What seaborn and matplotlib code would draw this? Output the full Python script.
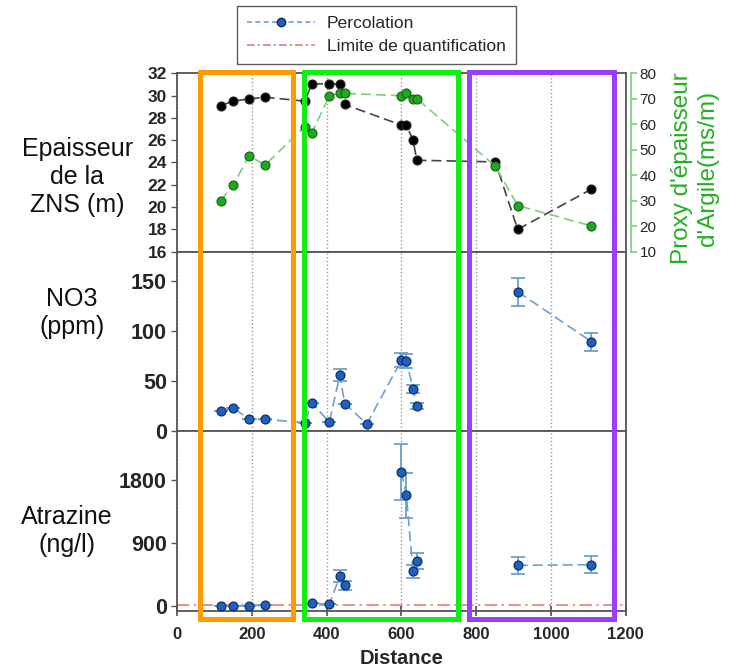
import numpy as np
import pandas as pd
import matplotlib
matplotlib.use("Agg")
import matplotlib.pyplot as plt
import matplotlib.transforms as mtrans
from matplotlib.lines import Line2D
from matplotlib.patches import Rectangle
import seaborn as sns

# ---------------- data ----------------
zns_x = [116, 150, 192, 235, 341, 360, 407, 435, 448, 600, 613, 631, 641, 851, 911, 1108]
zns_y = [29.1, 29.5, 29.7, 29.85, 29.5, 31.05, 31.05, 31.05, 29.2, 27.35, 27.35, 26.0, 24.2, 24.05, 18.0, 21.6]
argile_y = [30, 36.2, 47.6, 44, 59.1, 56.5, 71.2, 72.1, 72.1, 71.2, 72.1, 70, 70, 43.6, 28.1, 20.1]

# sampling points for water analyses (None = not measured -> gap in line)
perc_x = [116, 150, 192, 235, 341, 360, 407, 435, 448, 507, 600, 613, 631, 641, 851, 911, 1108]
no3_y = [20, 22.7, 12, 11.7, 8.3, 27.7, 9, 55.7, 27.3, 7, 70.7, 70, 41.7, 25.3, None, 139, 89.3]
no3_err = [0, 0, 0, 0, 0, 0, 0, 6, 0, 0, 7, 7, 4, 3, None, 14, 9]
atr_y = [5, 0, 0, 14, None, 43, 24, 430, 296, None, 1924, 1586, 497, 645, None, 583, 592]
atr_err = [0, 0, 0, 0, None, 0, 0, 86, 67, None, 400, 320, 95, 110, None, 120, 120]

limite_quant = 20

x_ticks = [0, 200, 400, 600, 800, 1000, 1200]
zns_ticks = [16, 18, 20, 22, 24, 26, 28, 30, 32]
argile_ticks = [10, 20, 30, 40, 50, 60, 70, 80]
no3_ticks = [0, 50, 100, 150]
atr_ticks = [0, 900, 1800]

# zones (distance spans) highlighted by coloured frames
zone_spans = [(62, 310), (338, 752), (781, 1168)]
zone_colors = ["#ff9a00", "#11ee11", "#9b3dff"]

legend_labels = ["Percolation", "Limite de quantification"]

# ---------------- style ----------------
sns.set_theme(style="white")
plt.rcParams["font.family"] = ["Liberation Sans", "DejaVu Sans"]

spine_c = "#555555"
green_txt = "#22b022"
blue_line = "#6f9fcf"
blue_face = "#1f5fbf"
blue_edge = "#0b2a5a"
MS = 42


def segmented(x, y, e):
    df = pd.DataFrame({"x": x, "y": pd.to_numeric(pd.Series(y), errors="coerce"),
                       "e": pd.to_numeric(pd.Series(e), errors="coerce")})
    df["seg"] = df["y"].isna().cumsum()
    return df.dropna(subset=["y"]).reset_index(drop=True)


fig = plt.figure(figsize=(7.35, 6.69), dpi=100)
L, W = 0.2412, 0.6101
ax1 = fig.add_axes([L, 0.6238, W, 0.2667])
ax_no3 = fig.add_axes([L, 0.3558, W, 0.2680])
ax_atr = fig.add_axes([L, 0.0867, W, 0.2691])

for ax in (ax1, ax_no3, ax_atr):
    ax.set_xlim(0, 1200)
    ax.set_xticks(x_ticks)
    ax.grid(axis="x", linestyle=":", color="#9a9a9a", linewidth=1)
    ax.grid(axis="y", visible=False)
    for s in ax.spines.values():
        s.set_color(spine_c)
        s.set_linewidth(1.3)
    ax.tick_params(axis="y", which="both", left=True, direction="out", length=4,
                   color=spine_c, width=1)

ax1.tick_params(axis="x", bottom=False, labelbottom=False)
ax_no3.tick_params(axis="x", bottom=False, labelbottom=False)

# ---------- top panel ----------
df_zns = pd.DataFrame({"x": zns_x, "zns": zns_y, "arg": argile_y})
sns.lineplot(data=df_zns, x="x", y="zns", ax=ax1, sort=False, estimator=None,
             color="#444444", linestyle=(0, (6, 3)), linewidth=1.2)
sns.scatterplot(data=df_zns, x="x", y="zns", ax=ax1, color="black", edgecolor="#222222",
                s=MS, linewidth=0.8, zorder=3)
ax1.set_ylim(16, 32)
ax1.set_yticks(zns_ticks)
ax1.set_yticklabels([str(t) for t in zns_ticks], fontweight="bold", fontsize=12.5)
ax1.set_xlabel("")
ax1.set_ylabel("")

ax2 = ax1.twinx()
sns.lineplot(data=df_zns, x="x", y="arg", ax=ax2, sort=False, estimator=None,
             color="#7dcf7d", linestyle=(0, (6, 3)), linewidth=1.2)
sns.scatterplot(data=df_zns, x="x", y="arg", ax=ax2, color="#1fa81f", edgecolor="#146314",
                s=MS, linewidth=0.8, zorder=3)
ax2.set_ylim(10, 80)
ax2.set_yticks(argile_ticks)
ax2.set_yticklabels([str(t) for t in argile_ticks], fontweight="bold", fontsize=12.5,
                    color=green_txt)
ax2.tick_params(axis="y", right=True, direction="out", length=4, color="#7dcf7d", pad=2)
ax2.spines["right"].set_color("#7dcf7d")
ax2.spines["right"].set_position(("outward", 4))
for k in ("left", "top", "bottom"):
    ax2.spines[k].set_visible(False)
ax2.grid(False)
ax2.set_xlabel("")
ax2.set_ylabel("")

# ---------- NO3 panel ----------
df_no3 = segmented(perc_x, no3_y, no3_err)
ax_no3.errorbar(df_no3["x"], df_no3["y"], yerr=df_no3["e"], fmt="none", ecolor=blue_line,
                elinewidth=1.3, capsize=5, capthick=1.3, zorder=2)
sns.lineplot(data=df_no3, x="x", y="y", units="seg", ax=ax_no3, sort=False, estimator=None,
             color=blue_line, linestyle=(0, (6, 3)), linewidth=1.2)
sns.scatterplot(data=df_no3, x="x", y="y", ax=ax_no3, color=blue_face, edgecolor=blue_edge,
                s=MS, linewidth=0.8, zorder=3)
ax_no3.set_ylim(0, 179)
ax_no3.set_yticks(no3_ticks)
ax_no3.set_yticklabels([str(t) for t in no3_ticks], fontweight="bold", fontsize=15.5)
ax_no3.set_xlabel("")
ax_no3.set_ylabel("")

# ---------- Atrazine panel ----------
df_atr = segmented(perc_x, atr_y, atr_err)
ax_atr.axhline(limite_quant, color="#e07070", linestyle=(0, (8, 3, 1.5, 3)), linewidth=1.1,
               zorder=1)
ax_atr.errorbar(df_atr["x"], df_atr["y"], yerr=df_atr["e"], fmt="none", ecolor=blue_line,
                elinewidth=1.3, capsize=5, capthick=1.3, zorder=2)
sns.lineplot(data=df_atr, x="x", y="y", units="seg", ax=ax_atr, sort=False, estimator=None,
             color=blue_line, linestyle=(0, (6, 3)), linewidth=1.2)
sns.scatterplot(data=df_atr, x="x", y="y", ax=ax_atr, color=blue_face, edgecolor=blue_edge,
                s=MS, linewidth=0.8, zorder=3)
ax_atr.set_ylim(-72, 2510)
ax_atr.set_yticks(atr_ticks)
ax_atr.set_yticklabels([str(t) for t in atr_ticks], fontweight="bold", fontsize=15.5)
ax_atr.set_xlim(0, 1200)
ax_atr.set_xticks(x_ticks)
ax_atr.set_xticklabels([str(t) for t in x_ticks], fontweight="bold", fontsize=12)
ax_atr.tick_params(axis="x", bottom=True, direction="inout", length=7, color=spine_c,
                   pad=8)
ax_atr.set_xlabel("Distance", fontweight="bold", fontsize=14.5, labelpad=5)
ax_atr.set_ylabel("")

# ---------- labels ----------
fig.text(77.5 / 735, 1 - 177 / 669, "Epaisseur\nde la\nZNS (m)", ha="center", va="center",
         fontsize=18, linespacing=1.22, color="#111111")
fig.text(71.7 / 735, 1 - 313 / 669, "NO3\n(ppm)", ha="center", va="center",
         fontsize=18, linespacing=1.22, color="#111111")
fig.text(66.7 / 735, 1 - 531 / 669, "Atrazine\n(ng/l)", ha="center", va="center",
         fontsize=18, linespacing=1.22, color="#111111")
fig.text(695 / 735, 1 - 168 / 669, "Proxy d'épaisseur\nd'Argile(ms/m)", ha="center",
         va="center", rotation=90, fontsize=17.5, linespacing=1.22, color=green_txt)

# ---------- zone frames ----------
btrans = mtrans.blended_transform_factory(ax_atr.transData, fig.transFigure)
y_top, y_bot = 1 - 72.3 / 669, 1 - 618.7 / 669
for (x0, x1), c in zip(zone_spans, zone_colors):
    rect = Rectangle((x0, y_bot), x1 - x0, y_top - y_bot, transform=btrans, fill=False,
                     edgecolor=c, linewidth=3.6, clip_on=False, zorder=5)
    fig.add_artist(rect)

# ---------- legend ----------
handles = [
    Line2D([], [], color=blue_line, linestyle=(0, (3, 2)), linewidth=1.2, marker="o",
           markersize=6, markerfacecolor=blue_face, markeredgecolor=blue_edge),
    Line2D([], [], color="#e07070", linestyle=(0, (5, 2, 1.5, 2)), linewidth=1.1),
]
leg = fig.legend(handles, legend_labels, loc="upper left",
                 bbox_to_anchor=(237 / 735, 1 - 6 / 669), frameon=True, fancybox=False,
                 fontsize=12.6, handlelength=3.9, borderpad=0.55, labelspacing=0.45,
                 handletextpad=0.7, borderaxespad=0)
leg.get_frame().set_edgecolor("#333333")
leg.get_frame().set_linewidth(1.0)

fig.savefig("out.png", dpi=100)
